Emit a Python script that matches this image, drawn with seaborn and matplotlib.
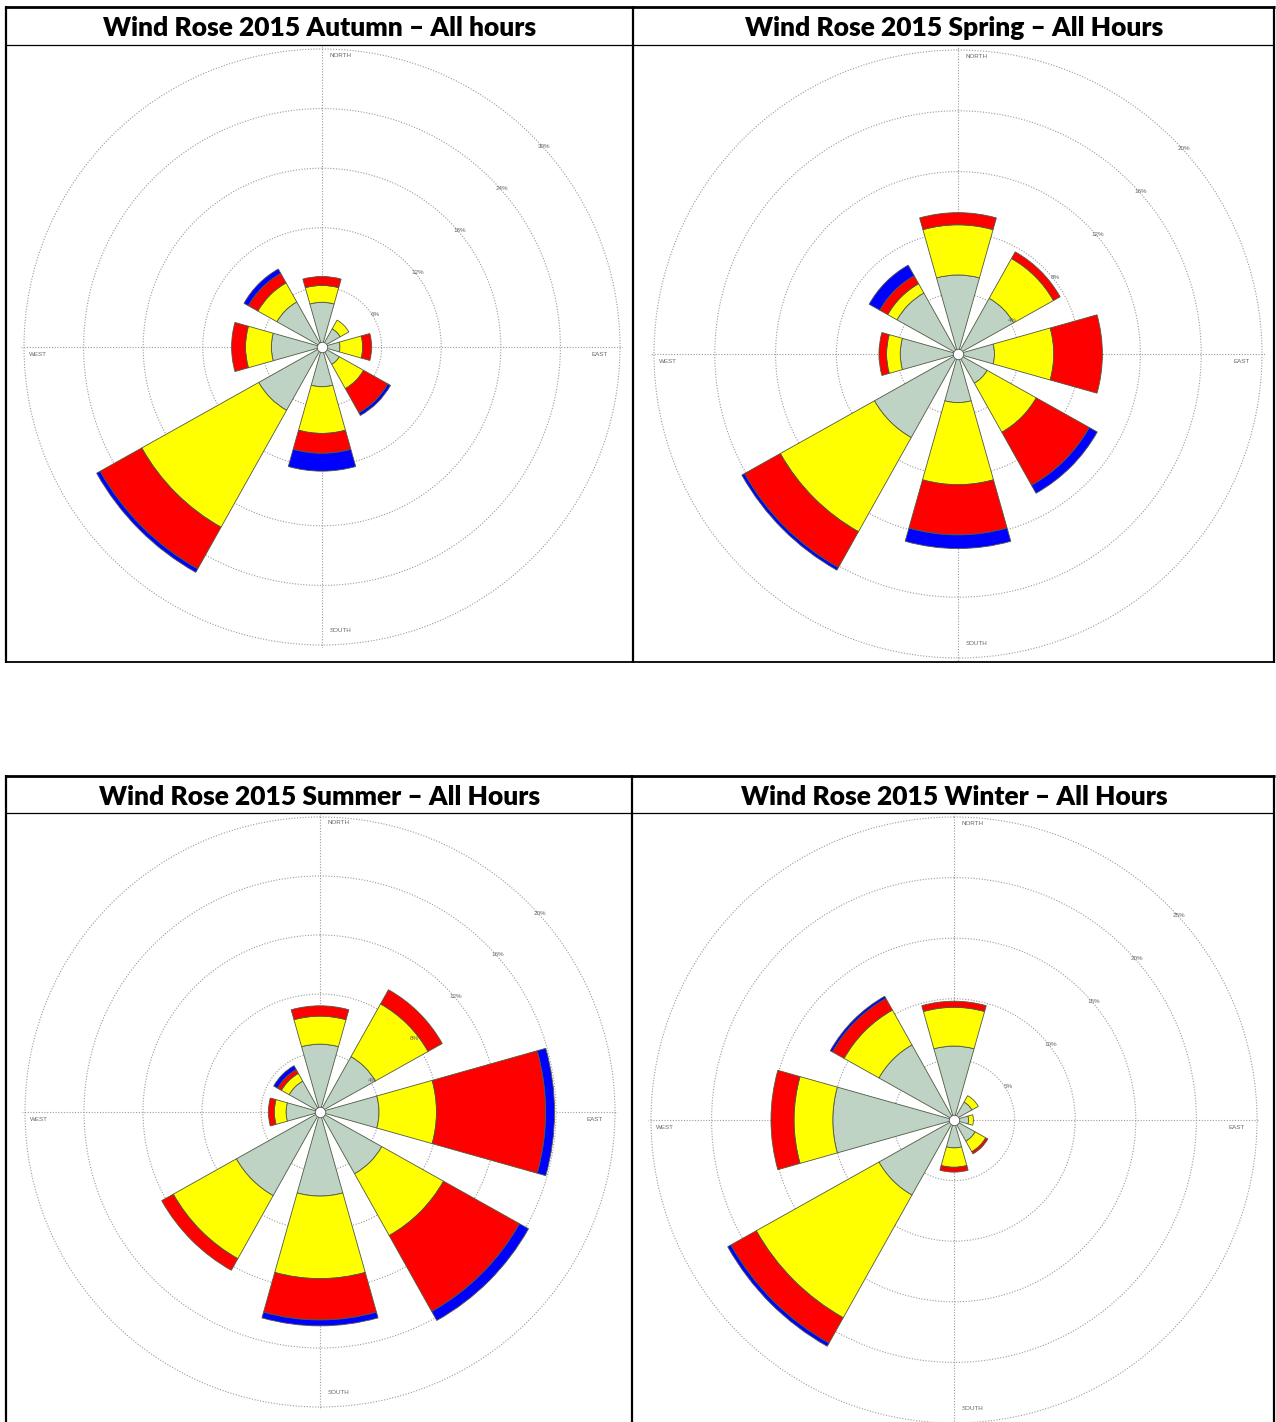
import numpy as np
import matplotlib.pyplot as plt
import seaborn as sns
from matplotlib.lines import Line2D

sns.set_theme(style="white")
plt.rcParams['font.family'] = ['Liberation Sans', 'DejaVu Sans']

W, H = 1276, 1422

# wind directions (8 sectors) and speed classes
directions = ["N", "NE", "E", "SE", "S", "SW", "W", "NW"]
dir_angles = [0, 45, 90, 135, 180, 225, 270, 315]
class_colors = ["#BED3C4", "#FFFF00", "#FF0000", "#0000FF"]

# frequency (%) per speed class
autumn_c1 = [4.5, 2.1, 1.8, 2.0, 4.0, 7.3, 5.1, 5.2]
autumn_c2 = [1.7, 1.0, 2.3, 2.8, 4.7, 13.5, 2.6, 2.2]
autumn_c3 = [0.9, 0.0, 0.9, 2.8, 2.0, 4.8, 1.4, 1.1]
autumn_c4 = [0.0, 0.0, 0.0, 0.3, 1.8, 0.4, 0.0, 0.5]
autumn_rings = [6, 12, 18, 24, 30]

spring_c1 = [5.2, 4.2, 2.4, 2.2, 3.2, 6.3, 3.8, 4.6]
spring_c2 = [3.3, 3.0, 3.9, 3.7, 5.4, 7.1, 0.9, 0.7]
spring_c3 = [0.8, 0.5, 3.2, 4.0, 3.3, 2.7, 0.5, 0.6]
spring_c4 = [0.0, 0.0, 0.0, 0.6, 0.9, 0.2, 0.0, 0.8]
spring_rings = [4, 8, 12, 16, 20]

summer_c1 = [4.6, 4.3, 4.0, 4.8, 5.7, 6.5, 2.3, 2.4]
summer_c2 = [1.9, 4.1, 3.9, 4.8, 5.6, 4.9, 0.8, 0.6]
summer_c3 = [0.7, 1.1, 7.4, 5.9, 2.8, 0.9, 0.4, 0.3]
summer_c4 = [0.0, 0.0, 0.6, 0.7, 0.4, 0.0, 0.0, 0.3]
summer_rings = [4, 8, 12, 16, 20]

winter_c1 = [6.1, 1.7, 1.2, 2.0, 2.3, 7.1, 10.0, 7.1]
winter_c2 = [3.2, 0.6, 0.4, 1.0, 1.6, 11.6, 3.2, 3.3]
winter_c3 = [0.5, 0.0, 0.0, 0.2, 0.4, 2.4, 1.9, 1.1]
winter_c4 = [0.0, 0.0, 0.0, 0.0, 0.0, 0.3, 0.0, 0.2]
winter_rings = [5, 10, 15, 20, 25]

titles = ["Wind Rose 2015 Autumn \u2013 All hours",
          "Wind Rose 2015 Spring \u2013 All Hours",
          "Wind Rose 2015 Summer \u2013 All Hours",
          "Wind Rose 2015 Winter \u2013 All Hours"]

fig = plt.figure(figsize=(W / 100, H / 100), dpi=100)
fig.patch.set_facecolor("white")


def px_line(x0, y0, x1, y1, lw):
    fig.add_artist(Line2D([x0 / W, x1 / W], [1 - y0 / H, 1 - y1 / H],
                          color="black", lw=lw, solid_capstyle="butt"))


# table borders
px_line(5, 7, 1275, 7, 2.0)
px_line(6, 45, 1274, 45, 0.9)
px_line(6, 662, 1274, 662, 1.3)
for x in (6, 633, 1274):
    px_line(x, 6, x, 663, 1.6)

px_line(5, 776, 1275, 776, 2.0)
px_line(6, 813, 1274, 813, 0.9)
for x in (6, 632, 1274):
    px_line(x, 775, x, 1422, 1.6)

# titles
for tx, ty, t in [(320, 28, titles[0]), (954, 28, titles[1]),
                  (320, 797, titles[2]), (954, 797, titles[3])]:
    fig.text(tx / W, 1 - ty / H, t, ha="center", va="center", color="black",
             fontsize=19, fontweight="heavy", family=["Lato", "DejaVu Sans"])


def draw_rose(cx, cy, R, classes, rings):
    rmax = rings[-1] * 1.01
    Ra = R * 1.01
    ax = fig.add_axes([(cx - Ra) / W, 1 - (cy + Ra) / H, 2 * Ra / W, 2 * Ra / H],
                      projection="polar")
    ax.set_theta_zero_location("N")
    ax.set_theta_direction(-1)
    ax.set_ylim(0, rmax)
    ax.set_axisbelow(True)
    ax.patch.set_alpha(0)
    ax.spines["polar"].set_visible(False)
    ax.set_yticks(rings)
    ax.set_yticklabels([])
    ax.set_xticks(np.deg2rad([0, 90, 180, 270]))
    ax.set_xticklabels([])
    ax.grid(True, color="#9a9a9a", linestyle=(0, (1, 1.5)), linewidth=0.8)

    theta = np.deg2rad(dir_angles)
    width = np.deg2rad(31.5)
    bottom = np.zeros(len(directions))
    for vals, col in zip(classes, class_colors):
        vals = np.array(vals)
        mask = vals > 0
        ax.bar(theta[mask], vals[mask], bottom=bottom[mask], width=width,
               color=col, edgecolor="#4f5a40", linewidth=0.6, zorder=2)
        bottom = bottom + vals

    # calm circle in the middle
    ax.plot([0], [0], marker="o", ms=7.5, mfc="white", mec="#555555",
            mew=0.6, zorder=5, clip_on=False)

    # ring labels along the NE diagonal
    for r in rings:
        ax.annotate(f"{r}%", xy=(np.deg2rad(45), r), xytext=(8, -7),
                    textcoords="offset points", ha="center", va="center",
                    fontsize=4.5, color="#666666", zorder=6)

    lab = dict(fontsize=4.5, color="#666666", transform=ax.transAxes)
    ax.text(0.513, 0.985, "NORTH", ha="left", va="center", **lab)
    ax.text(0.513, 0.029, "SOUTH", ha="left", va="center", **lab)
    ax.text(0.013, 0.487, "WEST", ha="left", va="center", **lab)
    ax.text(0.975, 0.487, "EAST", ha="right", va="center", **lab)
    return ax


draw_rose(322, 347, 298, [autumn_c1, autumn_c2, autumn_c3, autumn_c4], autumn_rings)
draw_rose(958, 354, 304, [spring_c1, spring_c2, spring_c3, spring_c4], spring_rings)
draw_rose(320, 1112, 295, [summer_c1, summer_c2, summer_c3, summer_c4], summer_rings)
draw_rose(954, 1120, 303, [winter_c1, winter_c2, winter_c3, winter_c4], winter_rings)

fig.savefig("out.png", dpi=100, facecolor="white")
